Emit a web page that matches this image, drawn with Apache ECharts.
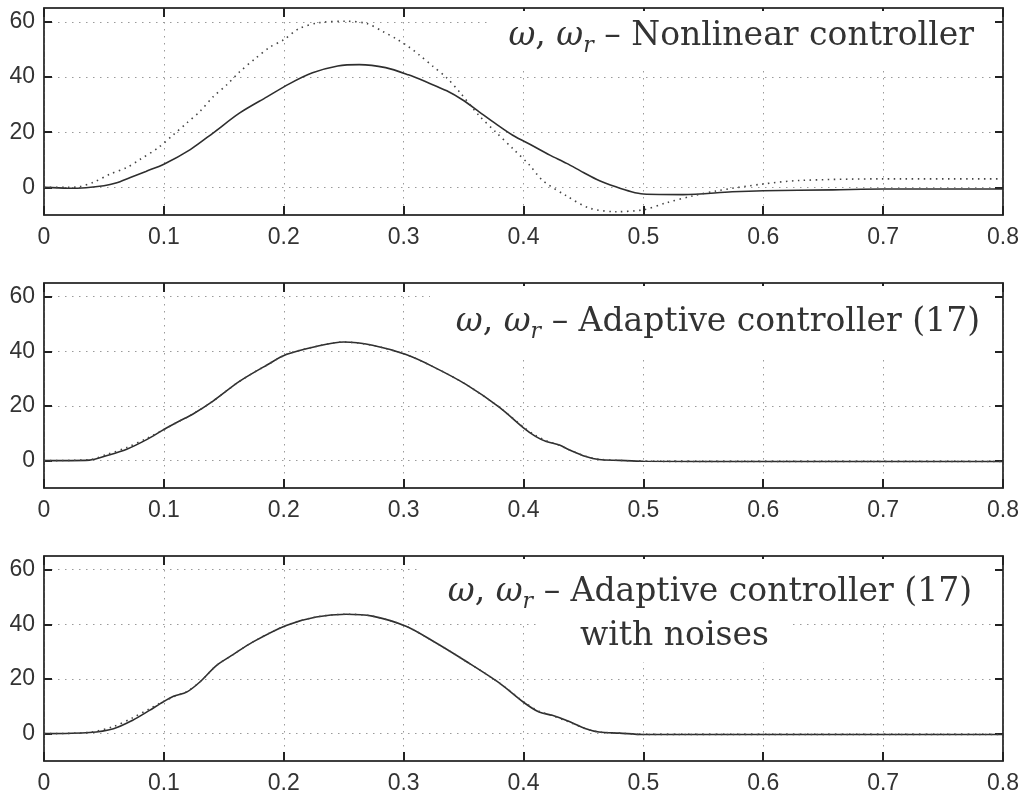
<!DOCTYPE html>
<html>
<head>
<meta charset="utf-8">
<script src="https://cdn.jsdelivr.net/npm/echarts@6/dist/echarts.min.js"></script>
<style>
  html, body { margin: 0; padding: 0; background: #fff; }
  #chart { width: 1032px; height: 802px; }
</style>
</head>
<body>
<div id="chart"></div>
<script>
// ticks
const yTicks = [0, 20, 40, 60];

// panel 1 - nonlinear controller
const nlTime = [0, 0.02, 0.035, 0.05, 0.06, 0.072, 0.085, 0.1, 0.122, 0.141, 0.163, 0.186, 0.205, 0.224, 0.245, 0.263, 0.285, 0.304, 0.32, 0.336, 0.35, 0.363, 0.377, 0.391, 0.408, 0.422, 0.436, 0.45, 0.463, 0.477, 0.49, 0.5, 0.533, 0.574, 0.6, 0.658, 0.7, 0.8];
const nlOmega = [0, -0.3, -0.1, 0.6, 1.6, 3.6, 5.8, 8.4, 13.7, 19.7, 26.9, 32.8, 37.6, 41.5, 44, 44.5, 43.4, 40.8, 38.0, 35.0, 31.5, 27.4, 23, 18.9, 15.0, 11.7, 8.7, 5.4, 2.5, 0.2, -1.6, -2.4, -2.6, -1.6, -1.2, -0.9, -0.6, -0.6];
const nlRefTime = [0, 0.02, 0.03, 0.041, 0.055, 0.069, 0.08, 0.095, 0.108, 0.119, 0.13, 0.141, 0.152, 0.163, 0.176, 0.188, 0.2, 0.213, 0.23, 0.252, 0.269, 0.283, 0.294, 0.304, 0.313, 0.324, 0.336, 0.347, 0.363, 0.377, 0.391, 0.405, 0.416, 0.436, 0.455, 0.477, 0.5, 0.519, 0.541, 0.561, 0.6, 0.63, 0.7, 0.8];
const nlRef = [0, 0, 0.3, 1.8, 4.8, 7.2, 10.1, 14.3, 19.1, 23.3, 27.5, 32.8, 37, 41.8, 46.6, 50.7, 53.5, 57.6, 59.7, 60.2, 59.4, 56.4, 53.8, 51.0, 48.0, 44.0, 39.7, 34.4, 26, 20, 14.1, 8.1, 2.5, -3.1, -7.5, -8.8, -8.1, -5.6, -3.1, -1.25, 1.25, 2.5, 3.1, 3.1];

// panel 2 - adaptive controller
const adTime = [0, 0.038, 0.052, 0.069, 0.086, 0.1, 0.113, 0.124, 0.141, 0.163, 0.186, 0.202, 0.227, 0.25, 0.274, 0.302, 0.324, 0.352, 0.38, 0.4, 0.41, 0.419, 0.43, 0.438, 0.452, 0.463, 0.48, 0.5, 0.6, 0.8];
const adOmega = [0, 0.2, 1.8, 4.2, 7.8, 11.4, 14.5, 17, 21.8, 29, 35, 38.8, 41.8, 43.4, 42.2, 38.8, 34.5, 27.9, 19.5, 12.0, 8.9, 7.0, 5.7, 4.0, 1.5, 0.4, 0.1, -0.2, -0.3, -0.3];
const adRef = [0, 0.4, 2.2, 4.8, 8.2, 11.4, 14.5, 17, 21.8, 29, 35, 38.8, 41.8, 43.4, 42.2, 38.8, 34.5, 27.9, 19.5, 12.3, 9.2, 7.3, 5.6, 4.0, 1.6, 0.5, 0.1, -0.2, -0.3, -0.3];

// panel 3 - adaptive controller with noises
const noTime = [0, 0.038, 0.058, 0.074, 0.088, 0.097, 0.108, 0.119, 0.13, 0.144, 0.158, 0.174, 0.202, 0.227, 0.252, 0.274, 0.302, 0.324, 0.352, 0.38, 0.4, 0.413, 0.424, 0.436, 0.452, 0.463, 0.48, 0.5, 0.6, 0.8];
const noOmega = [0, 0.4, 1.8, 4.9, 8.5, 11, 13.7, 15.2, 18.9, 25, 29, 33.5, 39.6, 42.7, 43.7, 43.0, 39.3, 34, 26.5, 18.5, 11.5, 7.9, 6.7, 4.8, 1.8, 0.6, 0.2, -0.3, -0.3, -0.3];
const noRef = [0, 0.5, 2.6, 5.8, 9.1, 11.2, 13.5, 15.4, 18.9, 25, 29, 33.5, 39.6, 42.7, 43.7, 43.0, 39.3, 34, 26.5, 18.5, 11.7, 8.2, 6.6, 4.6, 1.8, 0.6, 0.2, -0.3, -0.3, -0.3];

const pair = (ts, vs) => ts.map((t, i) => [t, vs[i]]);

const grids = [
    {left: 44, width: 959, top: 8, height: 207},
    {left: 44, width: 959, top: 283, height: 205},
    {left: 44, width: 959, top: 556, height: 205}
];

const frame = '#333';
const tickLine = {color: '#222', width: 2};
const gridDots = {color: '#9a9a9a', type: [1.5, 5.5], width: 1};

let xAxes = [], yAxes = [];
grids.forEach((g, i) => {
    xAxes.push({
        type: 'value', gridIndex: i, min: 0, max: 0.8, interval: 0.1,
        axisLine: {show: true, onZero: false, lineStyle: {color: frame, width: 1.5}},
        axisTick: {show: true, inside: true, length: 9, lineStyle: tickLine},
        axisLabel: {
            margin: 11, fontSize: 23, fontFamily: 'Liberation Sans', color: '#333',
            showMinLabel: true, showMaxLabel: true,
            formatter: v => String(+v.toFixed(1))
        },
        splitLine: {show: true, lineStyle: gridDots}
    });
    xAxes.push({
        type: 'value', gridIndex: i, min: 0, max: 0.8, interval: 0.1, position: 'top',
        axisLine: {show: true, onZero: false, lineStyle: {color: frame, width: 1.5}},
        axisTick: {show: true, inside: true, length: 9, lineStyle: tickLine},
        axisLabel: {show: false},
        splitLine: {show: false}
    });
    yAxes.push({
        type: 'value', gridIndex: i, min: -10, max: 65,
        axisLine: {show: true, onZero: false, lineStyle: {color: frame, width: 1.5}},
        axisTick: {show: true, inside: true, length: 8, customValues: yTicks, lineStyle: tickLine},
        axisLabel: {margin: 9, fontSize: 23, fontFamily: 'Liberation Sans', color: '#333', customValues: yTicks},
        splitLine: {show: true, lineStyle: gridDots}
    });
    yAxes.push({
        type: 'value', gridIndex: i, min: -10, max: 65, position: 'right',
        axisLine: {show: true, onZero: false, lineStyle: {color: frame, width: 1.5}},
        axisTick: {show: true, inside: true, length: 8, customValues: yTicks, lineStyle: tickLine},
        axisLabel: {show: false},
        splitLine: {show: false}
    });
});

function line(i, data, dotted) {
    return {
        type: 'line', xAxisIndex: i * 2, yAxisIndex: i * 2, data: data,
        showSymbol: false, smooth: 0.3, animation: false,
        lineStyle: dotted
            ? {color: '#444', width: 1.6, type: [1.5, 4.5]}
            : {color: '#2e2e2e', width: 1.6},
        z: dotted ? 3 : 2
    };
}

const serif = 'DejaVu Serif';
const rich = {
    w: {fontStyle: 'italic', fontSize: 33, fontFamily: serif, fill: '#333'},
    r: {fontStyle: 'italic', fontSize: 22, fontFamily: serif, fill: '#333', verticalAlign: 'bottom', lineHeight: 22}
};
function label(text, x, y, align) {
    return {
        type: 'text', x: x, y: y, z: 20,
        style: {text: text, fontSize: 33, fontFamily: serif, fill: '#333',
            align: align || 'right', verticalAlign: 'middle', lineHeight: 42, rich: rich}
    };
}
function blank(x, y, w, h) {
    return {type: 'rect', z: 10, shape: {x: x, y: y, width: w, height: h}, style: {fill: '#fff'}};
}

const chart = echarts.init(document.getElementById('chart'));
chart.setOption({
    animation: false,
    backgroundColor: '#fff',
    grid: grids.map(g => Object.assign({show: true, borderColor: frame, borderWidth: 1.5}, g)),
    xAxis: xAxes,
    yAxis: yAxes,
    series: [
        line(0, pair(nlTime, nlOmega), false),
        line(0, pair(nlRefTime, nlRef), true),
        line(1, pair(adTime, adOmega), false),
        line(1, pair(adTime, adRef), true),
        line(2, pair(noTime, noOmega), false),
        line(2, pair(noTime, noRef), true)
    ],
    graphic: [
        blank(488, 11, 505, 57),
        blank(430, 286, 563, 72),
        blank(418, 559, 575, 65),
        blank(540, 624, 250, 38),
        label('{w|ω}, {w|ω}{r|r} – Nonlinear controller', 974, 36),
        label('{w|ω}, {w|ω}{r|r} – Adaptive controller (17)', 980, 322),
        label('{w|ω}, {w|ω}{r|r} – Adaptive controller (17)', 972, 592),
        label('with noises', 580, 636, 'left')
    ]
});
</script>
</body>
</html>
